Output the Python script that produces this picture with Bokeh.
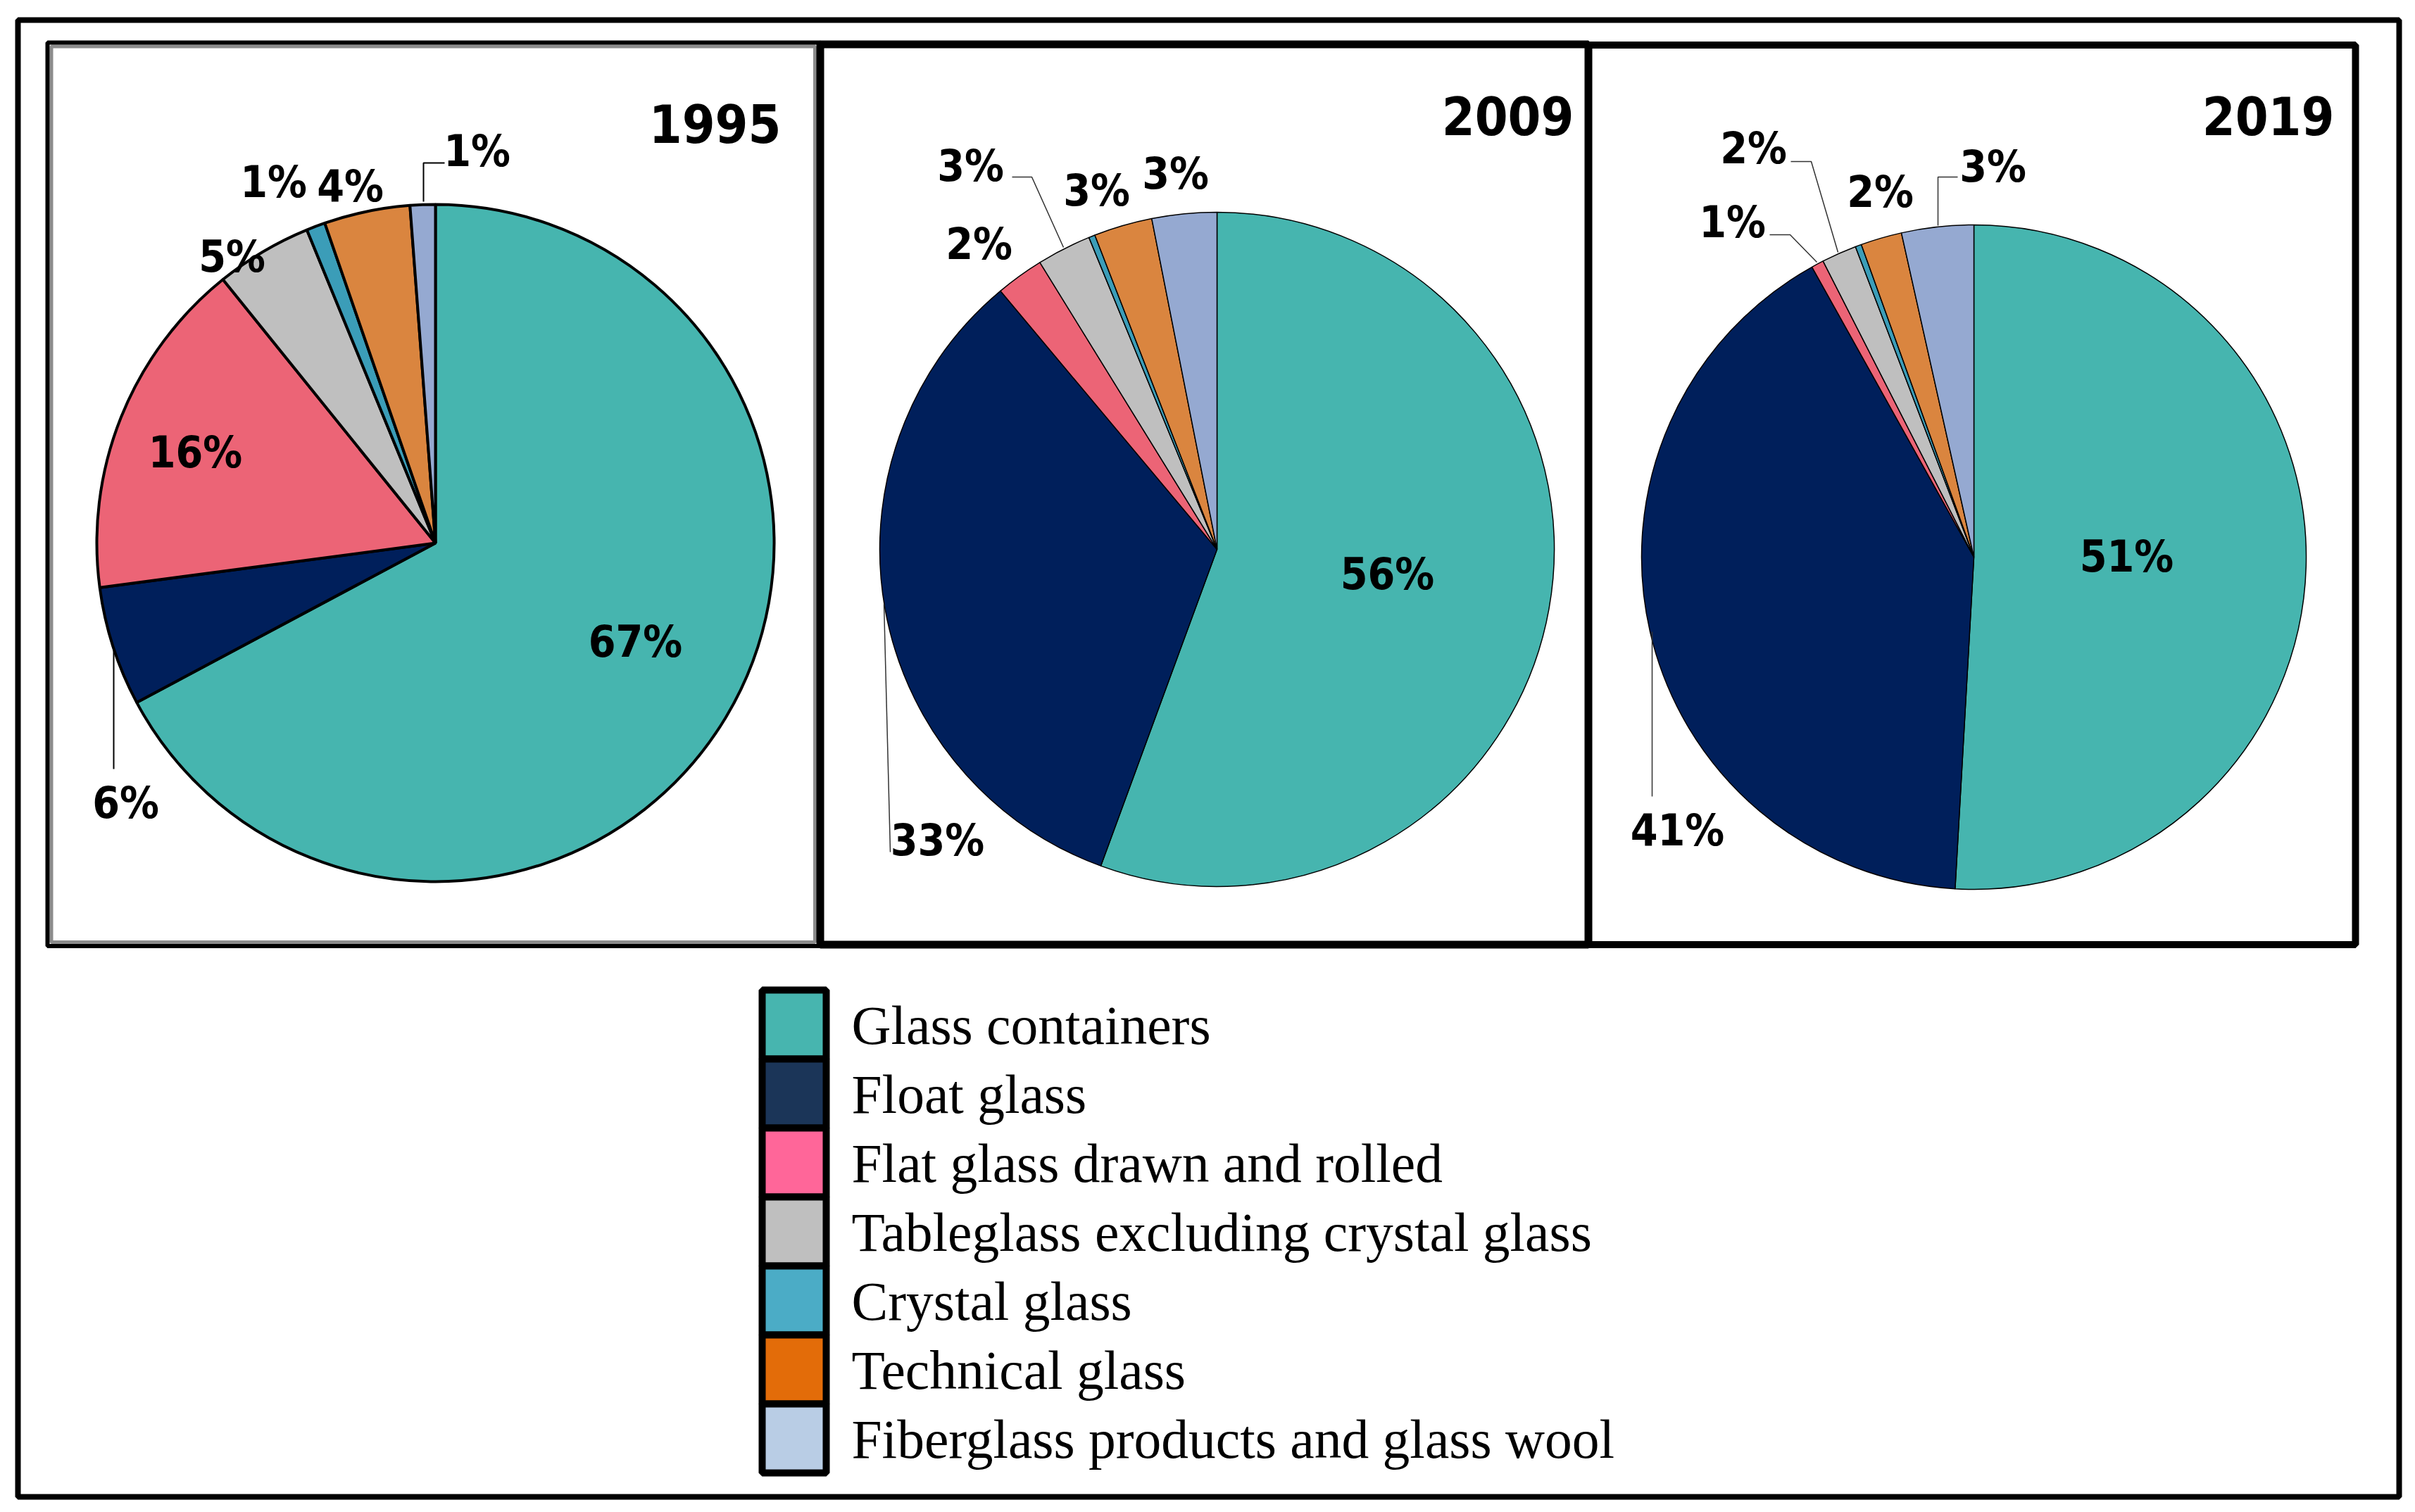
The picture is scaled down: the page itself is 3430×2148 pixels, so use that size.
import math
from bokeh.plotting import figure
from bokeh.models import Range1d, ColumnDataSource
from bokeh.embed import file_html
from bokeh.resources import INLINE
from bokeh.core.properties import value

# ---------------- data ----------------
categories = [
    "Glass containers",
    "Float glass",
    "Flat glass drawn and rolled",
    "Tableglass excluding crystal glass",
    "Crystal glass",
    "Technical glass",
    "Fiberglass products and glass wool",
]
years = ["1995", "2009", "2019"]

share_1995 = [67.2, 5.7, 16.3, 4.6, 0.9, 4.1, 1.2]
share_2009 = [55.6, 33.3, 2.3, 2.6, 0.3, 2.8, 3.1]
share_2019 = [50.9, 41.0, 0.6, 1.7, 0.3, 2.0, 3.5]

labels_1995 = ["67%", "6%", "16%", "5%", "1%", "4%", "1%"]
labels_2009 = ["56%", "33%", "2%", "3%", "", "3%", "3%"]
labels_2019 = ["51%", "41%", "1%", "2%", "", "2%", "3%"]

# ---------------- styles ----------------
pie_colors = ["#46B5AF", "#001F5B", "#EC6476", "#BFBFBF", "#3B9DB8", "#DA853F", "#95A9D1"]
legend_colors = ["#47B5AF", "#1B3558", "#FF6699", "#BFBFBF", "#4BACC6", "#E36C09", "#B9CDE5"]

LABEL_FONT = "DejaVu Sans Condensed"
LEGEND_FONT = "Liberation Serif"

# ---------------- layout (screen pixels of the picture) ----------------
W, H = 3414, 2132
pies = [
    dict(year="1995", shares=share_1995, labels=labels_1995, cx=618, cy=771, r=481, lw=4,
         pos=[(902, 909), (178, 1138), (277, 640), (329, 362), (388, 256), (497, 262), (677, 212)],
         title=(1109, 179), leaders=[[(161, 922), (161, 1092)], [(601, 286), (601, 231), (631, 231)]],
         leader_color="black", leader_w=2),
    dict(year="2009", shares=share_2009, labels=labels_2009, cx=1728, cy=780, r=479, lw=1.5,
         pos=[(1970, 813), (1331, 1191), (1390, 344), (1378, 233), (0, 0), (1557, 268), (1669, 244)],
         title=(2235, 168), leaders=[[(1255, 858), (1264, 1210)], [(1437, 251), (1465, 251), (1510, 351)]],
         leader_color="#333333", leader_w=1.5),
    dict(year="2019", shares=share_2019, labels=labels_2019, cx=2803, cy=791, r=472, lw=1.5,
         pos=[(3020, 788), (2382, 1177), (2460, 313), (2490, 208), (0, 0), (2670, 270), (2830, 234)],
         title=(3315, 168), leaders=[[(2346, 897), (2346, 1131)], [(2513, 333), (2542, 333), (2580, 372)],
                                     [(2543, 229), (2572, 229), (2610, 358)], [(2780, 251), (2752, 251), (2752, 320)]],
         leader_color="#333333", leader_w=1.5),
]

p = figure(width=W, height=H, x_range=Range1d(0, W), y_range=Range1d(-H, 0),
           output_backend="svg", toolbar_location=None, x_axis_type=None, y_axis_type=None,
           min_border=0)
p.outline_line_color = None
p.background_fill_color = "white"
p.border_fill_color = "white"


def frame(x0, y0, x1, y1, color, lw):
    p.rect(x=[(x0 + x1) / 2], y=[-(y0 + y1) / 2], width=[x1 - x0], height=[y1 - y0],
           fill_color=None, line_color=color, line_width=lw)


# outer frame
frame(25, 28, 3407, 2126, "black", 8)
# panel 1: grey inner edge + black outer edge
frame(72.5, 65.5, 1157, 1338, "#8C8C8C", 5)
frame(67, 60, 1164.5, 1343.5, "black", 6)
# panels 2 and 3
frame(1164.5, 62.5, 2255.5, 1341.5, "black", 11)
frame(2255.5, 63.5, 3345, 1341.5, "black", 10)

# pies
for pie in pies:
    total = sum(pie["shares"])
    starts, ends = [], []
    cum = 0.0
    for v in pie["shares"]:
        starts.append(math.pi / 2 - 2 * math.pi * cum / total)
        cum += v
        ends.append(math.pi / 2 - 2 * math.pi * cum / total)
    src = ColumnDataSource(dict(start=starts, end=ends, color=pie_colors, cat=categories))
    p.wedge(x=pie["cx"], y=-pie["cy"], radius=pie["r"], start_angle="start", end_angle="end",
            direction="clock", fill_color="color", line_color="black", line_width=pie["lw"],
            source=src)

    for seg in pie["leaders"]:
        p.line(x=[q[0] for q in seg], y=[-q[1] for q in seg], line_color=pie["leader_color"],
               line_width=pie["leader_w"])

    lx, ly, lt = [], [], []
    for (x, y), t in zip(pie["pos"], pie["labels"]):
        if t:
            lx.append(x)
            ly.append(-(y + 1.5))
            lt.append(t)
    p.text(x=lx, y=ly, text=lt, text_font=value(LABEL_FONT), text_font_size="62px",
           text_font_style="bold", text_align="center", text_baseline="alphabetic",
           text_color="black")

    tx, ty = pie["title"]
    p.text(x=[tx], y=[-(ty - 4)], text=[pie["year"]], text_font=value(LABEL_FONT),
           text_font_size="75px", text_font_style="bold", text_align="right",
           text_baseline="alphabetic", text_color="black")

# legend
row0, pitch = 1455, 98
ys = [row0 + pitch * i for i in range(len(categories))]
p.rect(x=[1127.5] * len(categories), y=[-y for y in ys], width=91, height=pitch,
       fill_color=legend_colors, line_color="black", line_width=10)
p.text(x=[1209] * len(categories), y=[-(y + 1) for y in ys], text=categories,
       text_font=value(LEGEND_FONT), text_font_size="77.5px", text_align="left",
       text_baseline="alphabetic", text_color="black")

open("out.html", "w").write(file_html(p, INLINE))
